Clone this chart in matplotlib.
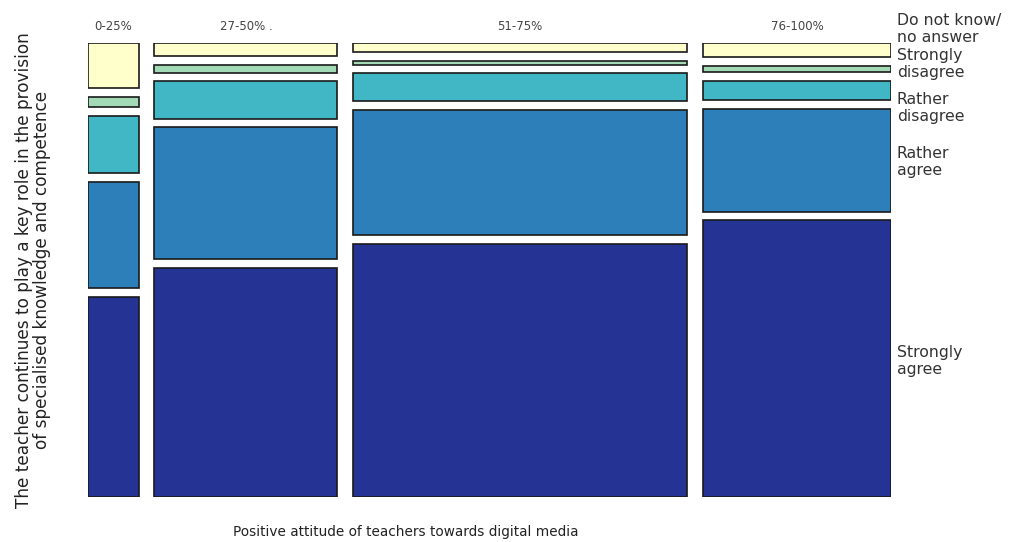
import matplotlib.pyplot as plt

# Attitude groups (columns) and their relative share of teachers
groups = ['0-25%', '27-50% .', '51-75%', '76-100%']
group_share = [6.7, 24.2, 44.2, 24.9]

# Answer categories, bottom to top
answers = ['Strongly\nagree', 'Rather\nagree', 'Rather\ndisagree',
           'Strongly\ndisagree', 'Do not know/\nno answer']

# Share of each answer within each group (%), bottom to top
strongly_agree = [47.8, 54.6, 60.4, 66.0]
rather_agree = [25.3, 31.5, 30.0, 24.6]
rather_disagree = [13.7, 8.9, 6.6, 4.5]
strongly_disagree = [2.4, 1.9, 1.0, 1.6]
dont_know = [10.8, 3.1, 2.1, 3.3]

colors = ['#253494', '#2c7fb8', '#41b6c4', '#a1dab4', '#ffffcc']

series = [strongly_agree, rather_agree, rather_disagree, strongly_disagree, dont_know]

gap_x = 0.021
gap_y = 0.0208

fig = plt.figure(figsize=(10.09, 5.42), dpi=100)
ax = fig.add_axes([88 / 1009, 45 / 542, 803 / 1009, 454 / 542])

total_w = sum(group_share)
x = 0.0
for g, share in enumerate(group_share):
    w = share / total_w
    col_total = sum(s[g] for s in series)
    y = 0.0
    for k, s in enumerate(series):
        h = s[g] / col_total
        ax.bar(x, h, width=w, bottom=y, align='edge', color=colors[k],
               edgecolor='#1a1a1a', linewidth=1.2)
        y += h + gap_y
    ax.text(x + w / 2, 1 + 4 * gap_y + 0.025, groups[g], ha='center', va='bottom',
            fontsize=8.5, color='#444444')
    x += w + gap_x

ax.set_xlim(0, 1 + 3 * gap_x)
ax.set_ylim(0, 1 + 4 * gap_y)
ax.axis('off')

# answer labels on the right
label_y = [361, 162, 108, 64, 29]
for lab, yy in zip(answers, label_y):
    fig.text(897 / 1009, 1 - yy / 542, lab, ha='left', va='center',
             fontsize=11.3, color='#333333', linespacing=1.1)

fig.text(406 / 1009, 1 - 532 / 542, 'Positive attitude of teachers towards digital media',
         ha='center', va='center', fontsize=9.8, color='#222222')
fig.text(33 / 1009, 1 - 270 / 542,
         'The teacher continues to play a key role in the provision\nof specialised knowledge and competence',
         ha='center', va='center', rotation=90, fontsize=12.2, color='#222222',
         linespacing=1.05)

fig.savefig('out.png', dpi=100)
